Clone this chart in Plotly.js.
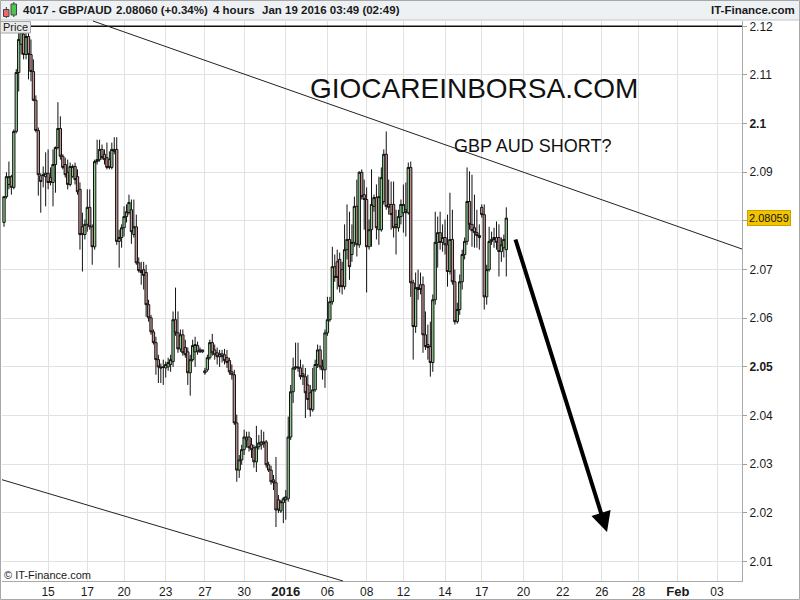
<!DOCTYPE html>
<html>
<head>
<meta charset="utf-8">
<script src="https://cdn.plot.ly/plotly-3.0.1.min.js"></script>
<style>
  html, body { margin: 0; padding: 0; background: #fff; }
  #chart { width: 800px; height: 600px; }
</style>
</head>
<body>
<div id="chart"></div>
<script>
// GBP/AUD, 4-hour candles (bar index order)
const openP = [
2.0797,2.0850,2.0875,2.0891,2.0869,2.0984,2.1105,2.1163,2.1184,2.1142,
2.1179,2.1142,2.1107,2.1048,2.0986,2.0893,2.0895,2.0891,2.0898,2.0889,
2.0879,2.0916,2.0951,2.0990,2.0933,2.0916,2.0900,2.0875,2.0891,2.0912,
2.0891,2.0865,2.0788,2.0772,2.0793,2.0828,2.0788,2.0747,2.0922,2.0926,
2.0947,2.0937,2.0930,2.0926,2.0910,2.0943,2.0947,2.0758,2.0766,2.0786,
2.0809,2.0817,2.0823,2.0772,2.0788,2.0714,2.0698,2.0700,2.0694,2.0628,
2.0601,2.0572,2.0550,2.0515,2.0500,2.0500,2.0498,2.0500,2.0505,2.0511,
2.0597,2.0570,2.0537,2.0566,2.0540,2.0531,2.0488,2.0515,2.0531,2.0544,
2.0535,2.0531,2.0488,2.0494,2.0519,2.0550,2.0535,2.0529,2.0521,2.0527,
2.0525,2.0519,2.0513,2.0490,2.0484,2.0385,2.0288,2.0309,2.0330,2.0350,
2.0356,2.0340,2.0334,2.0305,2.0336,2.0340,2.0346,2.0346,2.0299,2.0288,
2.0268,2.0262,2.0227,2.0204,2.0221,2.0227,2.0229,2.0356,2.0449,2.0498,
2.0500,2.0498,2.0486,2.0480,2.0463,2.0447,2.0412,2.0453,2.0505,2.0535,
2.0500,2.0494,2.0570,2.0597,2.0634,2.0706,2.0716,2.0721,2.0700,2.0665,
2.0741,2.0762,2.0731,2.0756,2.0830,2.0751,2.0900,2.0854,2.0844,2.0747,
2.0782,2.0830,2.0848,2.0782,2.0782,2.0840,2.0937,2.0834,2.0834,2.0834,
2.0793,2.0786,2.0809,2.0817,2.0823,2.0817,2.0910,2.0673,2.0583,2.0663,
2.0669,2.0669,2.0566,2.0546,2.0542,2.0509,2.0638,2.0756,2.0776,2.0756,
2.0766,2.0751,2.0696,2.0762,2.0675,2.0593,2.0618,2.0675,2.0731,2.0758,
2.0840,2.0793,2.0786,2.0776,2.0770,2.0828,2.0813,2.0644,2.0700,2.0758,
2.0762,2.0766,2.0766,2.0737,2.0745,2.0741
];
const highP = [
2.0850,2.0900,2.0922,2.0895,2.0988,2.1112,2.1198,2.1198,2.1198,2.1198,
2.1198,2.1173,2.1132,2.1058,2.0992,2.0898,2.0912,2.0941,2.0947,2.0910,
2.0947,2.0953,2.1044,2.1015,2.0937,2.0930,2.0926,2.0920,2.0916,2.0920,
2.0906,2.0879,2.0817,2.0803,2.0865,2.0865,2.0793,2.0926,2.0967,2.0967,
2.0957,2.0947,2.0961,2.0943,2.0961,2.0972,2.0972,2.0782,2.0793,2.0830,
2.0834,2.0854,2.0844,2.0844,2.0813,2.0725,2.0716,2.0716,2.0710,2.0638,
2.0607,2.0577,2.0562,2.0525,2.0507,2.0515,2.0511,2.0519,2.0525,2.0614,
2.0663,2.0614,2.0577,2.0577,2.0556,2.0540,2.0525,2.0556,2.0562,2.0552,
2.0540,2.0535,2.0498,2.0525,2.0556,2.0568,2.0546,2.0540,2.0535,2.0535,
2.0537,2.0535,2.0519,2.0505,2.0494,2.0402,2.0319,2.0340,2.0371,2.0367,
2.0367,2.0354,2.0340,2.0379,2.0360,2.0371,2.0367,2.0350,2.0305,2.0297,
2.0278,2.0315,2.0237,2.0227,2.0233,2.0247,2.0398,2.0463,2.0519,2.0550,
2.0550,2.0515,2.0505,2.0498,2.0484,2.0463,2.0498,2.0515,2.0546,2.0544,
2.0515,2.0577,2.0644,2.0644,2.0747,2.0731,2.0741,2.0735,2.0716,2.0793,
2.0834,2.0819,2.0793,2.0850,2.0885,2.0902,2.0906,2.0885,2.0869,2.0803,
2.0906,2.0854,2.0875,2.0891,2.0910,2.0947,2.0984,2.0885,2.0881,2.0881,
2.0823,2.0823,2.0844,2.0875,2.0879,2.0920,2.0922,2.0679,2.0694,2.0700,
2.0694,2.0686,2.0614,2.0587,2.0593,2.0649,2.0819,2.0809,2.0819,2.0793,
2.0803,2.0813,2.0858,2.0823,2.0700,2.0632,2.0690,2.0741,2.0766,2.0910,
2.0902,2.0895,2.0854,2.0823,2.0793,2.0834,2.0834,2.0710,2.0788,2.0778,
2.0786,2.0799,2.0793,2.0766,2.0772,2.0828
];
const lowP = [
2.0788,2.0846,2.0865,2.0854,2.0865,2.0980,2.1066,2.1142,2.1132,2.1132,
2.1091,2.1087,2.1046,2.0982,2.0852,2.0817,2.0869,2.0830,2.0865,2.0873,
2.0830,2.0858,2.0947,2.0926,2.0906,2.0889,2.0865,2.0871,2.0889,2.0875,
2.0854,2.0741,2.0696,2.0762,2.0778,2.0782,2.0710,2.0741,2.0916,2.0922,
2.0926,2.0916,2.0906,2.0906,2.0906,2.0937,2.0751,2.0704,2.0745,2.0768,
2.0797,2.0813,2.0753,2.0766,2.0710,2.0694,2.0669,2.0659,2.0603,2.0593,
2.0566,2.0546,2.0484,2.0467,2.0467,2.0463,2.0478,2.0492,2.0490,2.0500,
2.0564,2.0529,2.0531,2.0523,2.0519,2.0463,2.0441,2.0511,2.0500,2.0525,
2.0529,2.0529,2.0484,2.0490,2.0515,2.0523,2.0515,2.0505,2.0500,2.0509,
2.0505,2.0498,2.0484,2.0474,2.0381,2.0264,2.0272,2.0299,2.0319,2.0334,
2.0326,2.0313,2.0293,2.0284,2.0330,2.0330,2.0334,2.0293,2.0284,2.0258,
2.0247,2.0171,2.0200,2.0200,2.0179,2.0186,2.0223,2.0350,2.0426,2.0494,
2.0490,2.0474,2.0463,2.0395,2.0412,2.0398,2.0408,2.0449,2.0498,2.0494,
2.0474,2.0457,2.0564,2.0593,2.0628,2.0675,2.0659,2.0653,2.0649,2.0659,
2.0721,2.0679,2.0716,2.0747,2.0727,2.0745,2.0844,2.0782,2.0653,2.0741,
2.0747,2.0819,2.0762,2.0751,2.0778,2.0834,2.0823,2.0813,2.0782,2.0766,
2.0731,2.0778,2.0793,2.0776,2.0768,2.0813,2.0644,2.0515,2.0570,2.0638,
2.0649,2.0529,2.0535,2.0515,2.0480,2.0490,2.0628,2.0704,2.0741,2.0737,
2.0731,2.0665,2.0690,2.0669,2.0587,2.0589,2.0607,2.0659,2.0721,2.0751,
2.0782,2.0747,2.0745,2.0745,2.0741,2.0807,2.0618,2.0628,2.0696,2.0751,
2.0745,2.0741,2.0686,2.0716,2.0725,2.0686
];
const closeP = [
2.0850,2.0891,2.0891,2.0869,2.0984,2.1105,2.1173,2.1188,2.1142,2.1179,
2.1142,2.1107,2.1048,2.0986,2.0895,2.0881,2.0894,2.0898,2.0879,2.0879,
2.0916,2.0951,2.0990,2.0933,2.0910,2.0895,2.0875,2.0912,2.0912,2.0885,
2.0860,2.0772,2.0772,2.0793,2.0828,2.0788,2.0747,2.0922,2.0926,2.0947,
2.0930,2.0926,2.0910,2.0910,2.0947,2.0947,2.0758,2.0766,2.0786,2.0809,
2.0819,2.0838,2.0778,2.0788,2.0714,2.0698,2.0694,2.0688,2.0628,2.0601,
2.0572,2.0550,2.0515,2.0500,2.0498,2.0499,2.0505,2.0509,2.0515,2.0597,
2.0570,2.0537,2.0566,2.0529,2.0525,2.0488,2.0515,2.0544,2.0546,2.0531,
2.0531,2.0535,2.0492,2.0519,2.0550,2.0529,2.0525,2.0521,2.0527,2.0521,
2.0513,2.0509,2.0490,2.0484,2.0385,2.0288,2.0309,2.0330,2.0356,2.0356,
2.0334,2.0330,2.0305,2.0336,2.0344,2.0346,2.0342,2.0299,2.0288,2.0264,
2.0262,2.0206,2.0206,2.0223,2.0229,2.0233,2.0356,2.0449,2.0498,2.0500,
2.0498,2.0480,2.0480,2.0447,2.0433,2.0412,2.0453,2.0505,2.0535,2.0500,
2.0494,2.0570,2.0597,2.0634,2.0706,2.0684,2.0684,2.0665,2.0665,2.0741,
2.0762,2.0706,2.0756,2.0830,2.0751,2.0900,2.0850,2.0844,2.0747,2.0782,
2.0834,2.0848,2.0786,2.0850,2.0889,2.0937,2.0830,2.0828,2.0813,2.0786,
2.0786,2.0809,2.0834,2.0834,2.0817,2.0910,2.0673,2.0583,2.0663,2.0659,
2.0659,2.0566,2.0542,2.0540,2.0509,2.0638,2.0756,2.0776,2.0756,2.0766,
2.0751,2.0696,2.0762,2.0675,2.0593,2.0618,2.0675,2.0731,2.0758,2.0840,
2.0793,2.0780,2.0776,2.0770,2.0766,2.0813,2.0644,2.0700,2.0758,2.0762,
2.0766,2.0756,2.0737,2.0751,2.0762,2.08059
];
// x-axis tick labels (dates) at bar positions
const tickIdx = [18, 34, 49, 66, 82, 98, 115, 132, 148, 163, 180, 195, 212, 228, 244, 259, 275, 291];
const tickLabels = ['15','17','20','23','27','30','2016','06','08','12','14','17','20','22','26','28','Feb','03'];
const boldTicks = ['2016','Feb'];
// y-axis price ticks
const priceTicks = [2.01,2.02,2.03,2.04,2.05,2.06,2.07,2.08,2.09,2.10,2.11,2.12];
const priceLabels = ['2.01','2.02','2.03','2.04','2.05','2.06','2.07','2.08','2.09','2.1','2.11','2.12'];
const lastPrice = 2.08059;

const barIdx = openP.map((_, i) => i);

const W = 740, H = 560, L = 2, T = 21;
const px = x => (x - L) / W;
const py = y => (T + H - y) / H;

const FONT = 'Liberation Sans, Arial, sans-serif';

const trace = {
  type: 'candlestick',
  x: barIdx, open: openP, high: highP, low: lowP, close: closeP,
  increasing: { line: { color: '#111', width: 1 }, fillcolor: '#8fcf8f' },
  decreasing: { line: { color: '#111', width: 1 }, fillcolor: '#c99595' },
  whiskerwidth: 0,
  hoverinfo: 'none',
  showlegend: false
};

const xText = tickLabels.map(t => boldTicks.includes(t) ? '<span style="font-size:13px"><b>' + t + '</b></span>' : t);
const yText = priceLabels.map(t => (t === '2.1' || t === '2.05') ? '<b>' + t + '</b>' : (t === '2.08' ? '' : t));

const HDR = { size: 11.5, color: '#1a1a1a' };

const layout = {
  width: 800, height: 600,
  margin: { l: L, r: 800 - L - W, t: T, b: 600 - T - H, pad: 0 },
  paper_bgcolor: '#ffffff', plot_bgcolor: '#ffffff',
  font: { family: FONT, size: 12, color: '#1a1a1a' },
  showlegend: false,
  boxgap: 0.06, boxgroupgap: 0,
  xaxis: {
    range: [-0.82, 301.2], type: 'linear',
    tickmode: 'array', tickvals: tickIdx, ticktext: xText,
    showgrid: true, gridcolor: '#e2e2e2', gridwidth: 1,
    zeroline: false, showline: true, linecolor: '#a9a9a9', linewidth: 1,
    ticks: '', tickfont: { size: 12, color: '#1a1a1a' },
    rangeslider: { visible: false }, fixedrange: true
  },
  yaxis: {
    range: [2.00601, 2.12109], side: 'right',
    tickmode: 'array', tickvals: priceTicks, ticktext: yText,
    showgrid: true, gridcolor: '#e2e2e2', gridwidth: 1,
    zeroline: false, showline: true, linecolor: '#a9a9a9', linewidth: 1,
    ticks: 'outside', ticklen: 4, tickcolor: '#a0a0a0',
    tickfont: { size: 12, color: '#1a1a1a' }, fixedrange: true
  },
  shapes: [
    // header band
    { type: 'rect', xref: 'paper', yref: 'paper', x0: px(0), x1: px(800), y0: py(20), y1: py(0),
      fillcolor: '#eef1f3', line: { width: 0 }, layer: 'below' },
    { type: 'line', xref: 'paper', yref: 'paper', x0: px(0), x1: px(800), y0: py(20), y1: py(20),
      line: { color: '#c4c4c4', width: 1 } },
    // header icon
    { type: 'line', xref: 'paper', yref: 'paper', x0: px(6.3), x1: px(6.3), y0: py(18), y1: py(7),
      line: { color: '#333', width: 1 } },
    { type: 'rect', xref: 'paper', yref: 'paper', x0: px(3.5), x1: px(9), y0: py(16.5), y1: py(9.5),
      fillcolor: '#e86a6a', line: { color: '#444', width: 1 } },
    { type: 'line', xref: 'paper', yref: 'paper', x0: px(13.8), x1: px(13.8), y0: py(17), y1: py(2),
      line: { color: '#333', width: 1 } },
    { type: 'rect', xref: 'paper', yref: 'paper', x0: px(11), x1: px(16.5), y0: py(15), y1: py(4),
      fillcolor: '#4cc64c', line: { color: '#444', width: 1 } },
    // horizontal line at 2.12
    { type: 'line', xref: 'paper', yref: 'y', x0: 0, x1: 1, y0: 2.12, y1: 2.12,
      line: { color: '#111', width: 1.5 } },
    // upper channel line
    { type: 'line', xref: 'paper', yref: 'paper', x0: px(93), y0: py(21), x1: px(742), y1: py(249),
      line: { color: '#222', width: 1 } },
    // lower channel line
    { type: 'line', xref: 'paper', yref: 'paper', x0: px(2), y0: py(479.7), x1: px(343), y1: py(581),
      line: { color: '#222', width: 1 } },
    // "Price" box
    { type: 'rect', xref: 'paper', yref: 'paper', x0: px(0.5), x1: px(30.5), y0: py(33), y1: py(21.5),
      fillcolor: '#ebebeb', line: { color: '#a8a8a8', width: 1 } },
    // outer frame
    { type: 'rect', xref: 'paper', yref: 'paper', x0: px(0.5), x1: px(799.5), y0: py(599.5), y1: py(0.5),
      fillcolor: 'rgba(0,0,0,0)', line: { color: '#a8a8a8', width: 1 } }
  ],
  annotations: [
    { xref: 'paper', yref: 'paper', x: px(21), y: py(10.5), xanchor: 'left', yanchor: 'middle', showarrow: false,
      text: '<b>4017 - GBP/AUD</b>', font: HDR },
    { xref: 'paper', yref: 'paper', x: px(114), y: py(10.5), xanchor: 'left', yanchor: 'middle', showarrow: false,
      text: '<b>2.08060 (+0.34%)</b>', font: HDR },
    { xref: 'paper', yref: 'paper', x: px(211), y: py(10.5), xanchor: 'left', yanchor: 'middle', showarrow: false,
      text: '<b>4 hours</b>', font: HDR },
    { xref: 'paper', yref: 'paper', x: px(260), y: py(10.5), xanchor: 'left', yanchor: 'middle', showarrow: false,
      text: '<b>Jan 19 2016 03:49 (02:49)</b>', font: HDR },
    { xref: 'paper', yref: 'paper', x: px(797), y: py(10.5), xanchor: 'right', yanchor: 'middle', showarrow: false,
      text: '<b>IT-Finance.com</b>', font: HDR },
    { xref: 'paper', yref: 'paper', x: px(15.5), y: py(27.5), xanchor: 'center', yanchor: 'middle', showarrow: false,
      text: 'Price', font: { size: 11, color: '#1a1a1a' } },
    { xref: 'paper', yref: 'paper', x: px(2), y: py(575), xanchor: 'left', yanchor: 'middle', showarrow: false,
      text: '© IT-Finance.com', font: { size: 11, color: '#1a1a1a' } },
    { xref: 'paper', yref: 'paper', x: px(473.5), y: py(88), xanchor: 'center', yanchor: 'middle', showarrow: false,
      text: 'GIOCAREINBORSA.COM', font: { size: 28, color: '#111' } },
    { xref: 'paper', yref: 'paper', x: px(532), y: py(146), xanchor: 'center', yanchor: 'middle', showarrow: false,
      text: 'GBP AUD SHORT?', font: { size: 18, color: '#111' } },
    // last price label
    { xref: 'paper', yref: 'y', x: 1, y: lastPrice, xanchor: 'left', yanchor: 'middle', xshift: 5, showarrow: false,
      text: String(lastPrice), bgcolor: '#f2c400', bordercolor: '#c9a200', borderwidth: 1, borderpad: 1,
      font: { size: 11, color: '#111' } },
    // down arrow
    { xref: 'paper', yref: 'paper', x: px(607), y: py(532), ax: 515 - 607, ay: 238 - 532,
      axref: 'pixel', ayref: 'pixel', text: '', showarrow: true,
      arrowhead: 2, arrowsize: 1, arrowwidth: 4, arrowcolor: '#000' }
  ]
};

Plotly.newPlot('chart', [trace], layout, { staticPlot: true, displayModeBar: false });
</script>
</body>
</html>
